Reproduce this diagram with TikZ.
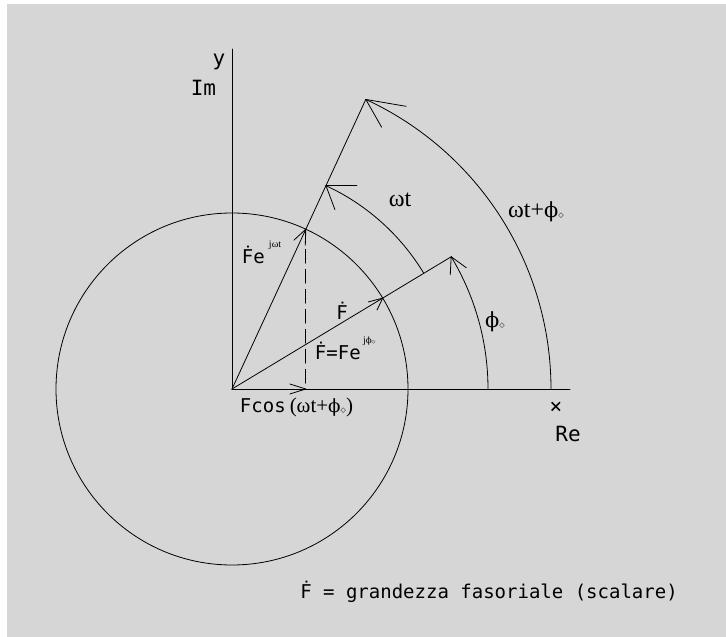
\documentclass[tikz,border=0pt]{standalone}
\usepackage{fontspec}
\usepackage{graphicx}
\newfontfamily\cad{DejaVu Sans Mono}
\newfontfamily\ser{Liberation Serif}
\newfontfamily\phif{DejaVu Serif}
\newfontfamily\symf{DejaVu Sans}
\newcommand{\dmd}{{\symf\fontsize{7}{7}\selectfont ◇}}
\newcommand{\dmds}{{\symf\fontsize{5}{5}\selectfont ◇}}
\newcommand{\ph}{\scalebox{0.87}{\phif ϕ}}
\definecolor{bggray}{HTML}{D6D6D6}
\begin{document}
\begin{tikzpicture}[x=1pt,y=1pt,line width=0.8pt,line cap=round,line join=round,
  lab/.style={inner sep=0pt,outer sep=0pt},
  axlab/.style={lab,font=\cad\fontsize{21}{21}\selectfont},
  cadlab/.style={lab,font=\cad\fontsize{19}{19}\selectfont},
  serlab/.style={lab,font=\ser\fontsize{24}{24}\selectfont},
  suplab/.style={lab,font=\ser\fontsize{10}{10}\selectfont},
  dashline/.style={dash pattern=on 14pt off 6pt}]
\fill[bggray] (-225,385) rectangle (494,-248);
\useasboundingbox (-232,389) rectangle (494,-248);
% points
\coordinate (O) at (0,0);
\coordinate (Ytop) at (0,340);
\coordinate (Xend) at (338,0);
\coordinate (A) at (31.1:256);
\coordinate (E) at (31.1:176);
\coordinate (B) at (65.2:176);
\coordinate (C) at (65.2:224);
\coordinate (D) at (65.2:319);
\coordinate (Bx) at (B |- O);
% axes
\draw (O) -- (Ytop);
\draw (O) -- (Xend);
% circle
\draw (O) circle[radius=176];
% vectors
\draw (O) -- (A);
\draw (O) -- (D);
\draw[dashline] (B) -- (Bx);
\draw (O) -- (Bx);
% arcs
\draw (256,0) arc[start angle=0,end angle=31.1,radius=256];
\draw (C) arc[start angle=65.2,end angle=31.1,radius=224];
\draw (319,0) arc[start angle=0,end angle=65.2,radius=319];
% arrow barbs
\draw (D) -- ++(-9.7:41);
\draw (D) -- ++(-60.3:32);
\draw (C) -- ++(0:31);
\draw (C) -- ++(-69.4:25.6);
\draw (B) -- ++(222.5:16.3);
\draw (B) -- ++(268:16);
\draw (E) -- ++(195:15);
\draw (E) -- ++(244.6:13.3);
\draw (A) -- ++(-36:18.6);
\draw (A) -- ++(-93:18);
\draw (Bx) -- ++(-16,5);
\draw (Bx) -- ++(-16,-5);
% labels
\node[axlab] (ly) at (-13,327) {y};
\node[axlab] (lim) at (-28.5,301) {Im};
\node[axlab] (lx) at (324,-19) {×};
\node[axlab] (lre) at (336,-45) {Re};
\node[cadlab,anchor=west] (lfe) at (10,134) {Ḟe};
\node[suplab,anchor=west] (lfesup) at (37,144) {jωt};
\node[serlab] (lwt) at (168,189) {ωt};
\node[serlab] (lwtp) at (304,177) {ωt+\ph\dmd};
\node[cadlab] (lf) at (110,78) {Ḟ};
\node[cadlab,anchor=west] (lfeq) at (83,38) {Ḟ=Fe};
\node[suplab,anchor=west] (lfeqsup) at (131,48) {j\ph\dmds};
\node[serlab] (lphi) at (263,67) {\ph\dmd};
\node[lab,anchor=west] (lcos) at (8,-18) {{\cad\fontsize{19}{19}\selectfont Fcos}\hspace{4pt}{\ser\fontsize{21}{21}\selectfont(ωt+\ph\dmd)}};
\node[cadlab] (lbot) at (257,-203) {Ḟ = grandezza fasoriale (scalare)};
\end{tikzpicture}
\end{document}
